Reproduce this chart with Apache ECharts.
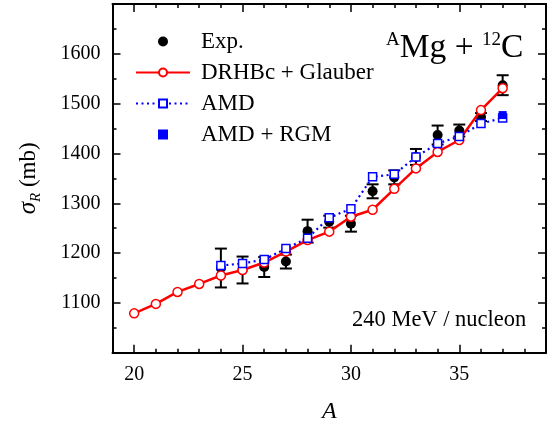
<!DOCTYPE html>
<html><head><meta charset="utf-8">
<script src="https://cdn.jsdelivr.net/npm/echarts@6/dist/echarts.min.js"></script>
<style>html,body{margin:0;padding:0;background:#fff}#c{width:554px;height:426px}</style>
</head><body><div id="c"></div>
<script>
// ---- data ----
const massExp   = [24, 25, 26, 27, 28, 29, 30, 31, 32, 33, 34, 35, 36, 37];
const sigmaExp  = [1170, 1166, 1172, 1183, 1244, 1263, 1259, 1324, 1352, 1393, 1437, 1446, 1473, 1537];
const errExp    = [39, 27, 20, 14, 23, 12, 16, 14, 14, 16, 19, 12, 8, 20];

const massDRHBc  = [20, 21, 22, 23, 24, 25, 26, 27, 28, 29, 30, 31, 32, 33, 34, 35, 36, 37];
const sigmaDRHBc = [1079, 1098, 1122, 1138, 1155, 1166, 1181, 1203, 1226, 1243, 1273, 1287, 1329, 1370, 1403, 1427, 1487, 1531];

const massAMD  = [24, 25, 26, 27, 28, 29, 30, 31, 32, 33, 34, 35, 36, 37];
const sigmaAMD = [1175, 1179, 1187, 1209, 1230, 1271, 1289, 1353, 1358, 1393, 1420, 1434, 1460, 1471];

const massRGM  = [37];
const sigmaRGM = [1477];

const xMajorTicks = [20, 25, 30, 35];
const seriesNames = ['Exp.', 'DRHBc + Glauber', 'AMD', 'AMD + RGM'];

// ---- build ----
const zip = (a, b) => a.map((v, i) => [v, b[i]]);
const serif = 'Liberation Serif';
const black = '#000';
const squarePath = 'path://M0,0L10,0L10,10L0,10Z';

function xAxis(pos, major) {
  return {
    type: 'value', position: pos, min: 19, max: 39, interval: 1,
    axisLine: { show: !major, onZero: false, lineStyle: { color: black, width: 2 } },
    axisTick: major
      ? { show: true, inside: true, length: 8, customValues: xMajorTicks, lineStyle: { color: black, width: 1.5 } }
      : { show: true, inside: true, length: 4, lineStyle: { color: black, width: 1.5 } },
    axisLabel: (major && pos === 'bottom')
      ? { show: true, customValues: xMajorTicks, margin: 12, color: black, fontFamily: serif, fontSize: 20 }
      : { show: false },
    splitLine: { show: false }
  };
}
function yAxis(pos) {
  return {
    type: 'value', position: pos, min: 1000, max: 1700, interval: 100,
    axisLine: { show: true, onZero: false, lineStyle: { color: black, width: 2 } },
    axisTick: { show: true, inside: true, length: 8, lineStyle: { color: black, width: 1.5 } },
    minorTick: { show: true, splitNumber: 2, length: 4, lineStyle: { color: black, width: 1.5 } },
    axisLabel: pos === 'left'
      ? { show: true, margin: 12, color: black, fontFamily: serif, fontSize: 20,
          formatter: v => (v === 1000 || v === 1700) ? '' : String(v) }
      : { show: false },
    splitLine: { show: false }, minorSplitLine: { show: false }
  };
}

const xAxes = [xAxis('bottom', false), xAxis('bottom', true), xAxis('top', false), xAxis('top', true)];
xAxes[1].name = 'A';
xAxes[1].nameLocation = 'middle';
xAxes[1].nameGap = 47;
xAxes[1].nameTextStyle = { color: black, fontFamily: serif, fontSize: 24, fontStyle: 'italic' };

const yAxes = [yAxis('left'), yAxis('right')];
yAxes[0].name = '{i|σ}{sub|R}{n| (mb)}';
yAxes[0].nameLocation = 'middle';
yAxes[0].nameRotate = 90;
yAxes[0].nameGap = 69;
yAxes[0].nameTextStyle = {
  color: black, fontFamily: serif, fontSize: 24, lineHeight: 30,
  rich: {
    i: { fontFamily: serif, fontSize: 25, fontStyle: 'italic', color: black, verticalAlign: 'middle', lineHeight: 30 },
    sub: { fontFamily: serif, fontSize: 15, fontStyle: 'italic', color: black, verticalAlign: 'bottom', lineHeight: 30 },
    n: { fontFamily: serif, fontSize: 23, color: black, verticalAlign: 'middle', lineHeight: 30 }
  }
};

const expData = zip(massExp, sigmaExp);
const errData = massExp.map((m, i) => [m, sigmaExp[i] - errExp[i], sigmaExp[i] + errExp[i]]);

const option = {
  animation: false,
  backgroundColor: '#fff',
  grid: { left: 112.5, right: 8, top: 4, bottom: 73.3, containLabel: false, outerBoundsMode: 'none' },
  xAxis: xAxes,
  yAxis: yAxes,
  legend: {
    data: [
      { name: seriesNames[0], icon: 'circle' },
      { name: seriesNames[1] },
      { name: seriesNames[2] },
      { name: seriesNames[3], icon: squarePath }
    ],
    orient: 'vertical', left: 135, top: 30, padding: 0,
    itemWidth: 54, itemHeight: 10, itemGap: 8, symbolKeepAspect: true,
    textStyle: { color: black, fontFamily: serif, fontSize: 23, padding: [0, 0, 0, 6] }
  },
  graphic: [
    { type: 'text', left: 386, top: 31, z: 100,
      style: {
        text: '{s|A}{m|Mg + }{s|12}{m|C}',
        rich: {
          s: { fontFamily: serif, fontSize: 19, fill: black, verticalAlign: 'top', lineHeight: 34 },
          m: { fontFamily: serif, fontSize: 33.5, fill: black, verticalAlign: 'bottom', lineHeight: 34 }
        }
      } },
    { type: 'text', left: 352, top: 309, z: 100,
      style: { text: '240 MeV / nucleon', fontFamily: serif, fontSize: 22.5, fill: black } }
  ],
  series: [
    {
      name: 'ExpErr', type: 'custom', xAxisIndex: 0, yAxisIndex: 0, z: 2,
      data: errData,
      renderItem: function (params, api) {
        const x = api.value(0);
        const lo = api.coord([x, api.value(1)]);
        const hi = api.coord([x, api.value(2)]);
        const w = 6;
        const st = { stroke: black, lineWidth: 2 };
        return { type: 'group', children: [
          { type: 'line', shape: { x1: lo[0], y1: lo[1], x2: hi[0], y2: hi[1] }, style: st },
          { type: 'line', shape: { x1: lo[0] - w, y1: lo[1], x2: lo[0] + w, y2: lo[1] }, style: st },
          { type: 'line', shape: { x1: hi[0] - w, y1: hi[1], x2: hi[0] + w, y2: hi[1] }, style: st }
        ] };
      }
    },
    {
      name: 'Exp.', type: 'scatter', xAxisIndex: 0, yAxisIndex: 0, z: 3,
      data: expData, symbol: 'circle', symbolSize: 10,
      itemStyle: { color: black, opacity: 1 }
    },
    {
      name: 'DRHBc + Glauber', type: 'line', xAxisIndex: 0, yAxisIndex: 0, z: 4,
      data: zip(massDRHBc, sigmaDRHBc), symbol: 'circle', symbolSize: 9, showAllSymbol: true,
      lineStyle: { color: '#ff0000', width: 2.5 },
      itemStyle: { color: '#fff', borderColor: '#ff0000', borderWidth: 1.5 }
    },
    {
      name: 'AMD', type: 'line', xAxisIndex: 0, yAxisIndex: 0, z: 5,
      data: zip(massAMD, sigmaAMD), symbol: 'rect', symbolSize: 8, showAllSymbol: true,
      lineStyle: { color: '#0000ff', width: 2.2, type: [2, 3.5] },
      itemStyle: { color: '#fff', borderColor: '#0000ff', borderWidth: 1.5 }
    },
    {
      name: 'AMD + RGM', type: 'scatter', xAxisIndex: 0, yAxisIndex: 0, z: 6,
      data: zip(massRGM, sigmaRGM), symbol: 'rect', symbolSize: 8,
      itemStyle: { color: '#0000ff', opacity: 1 }
    }
  ]
};
const chart = echarts.init(document.getElementById('c'), null, { renderer: 'canvas' });
chart.setOption(option);
</script>
</body></html>
